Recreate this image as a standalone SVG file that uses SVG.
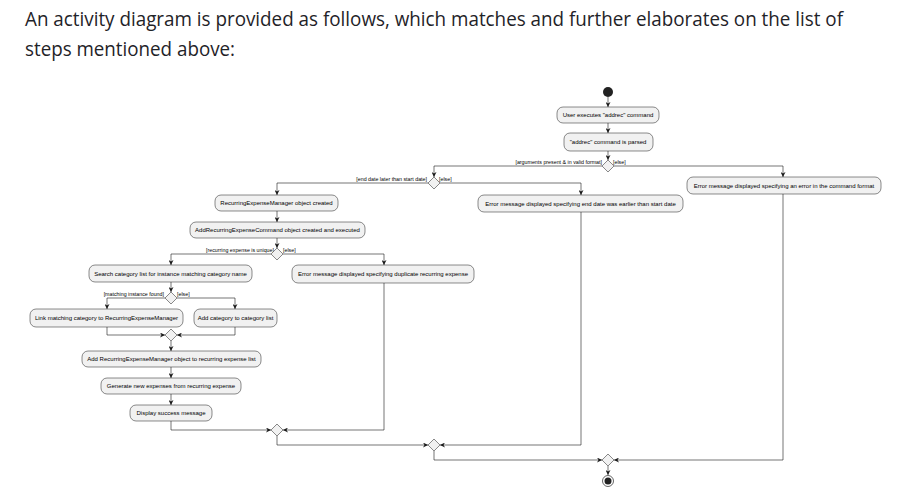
<svg xmlns="http://www.w3.org/2000/svg" width="899" height="497" viewBox="0 0 899 497">
<style>
.hdr{font-family:"Open Sans","Noto Sans","Liberation Sans",sans-serif;font-size:20px;fill:#1f2328}
.box rect{fill:#f1f1f1;stroke:#181818;stroke-width:0.5}
.box text{font-family:"Liberation Sans",Arial,sans-serif;font-size:6px;fill:#000;text-anchor:middle}
.dia{fill:#f1f1f1;stroke:#181818;stroke-width:0.5}
.lbl{font-family:"Liberation Sans",Arial,sans-serif;font-size:5.3px;fill:#000}
.edge{fill:none;stroke:#181818;stroke-width:0.6;marker-end:url(#arr)}
</style>
<defs>
<marker id="arr" viewBox="0 0 10 10" markerWidth="5" markerHeight="5" refX="10" refY="5" orient="auto" markerUnits="userSpaceOnUse">
<polygon points="0,0 10,5 0,10 3,5" fill="#181818"/>
</marker>
</defs>
<rect width="899" height="497" fill="#ffffff"/>
<text class="hdr" x="25" y="26" textLength="818" lengthAdjust="spacingAndGlyphs">An activity diagram is provided as follows, which matches and further elaborates on the list of</text>
<text class="hdr" x="25" y="56" textLength="210" lengthAdjust="spacingAndGlyphs">steps mentioned above:</text>

<g id="connectors">
<path class="edge" d="M608,97 V107"/>
<path class="edge" d="M608,123 V133"/>
<path class="edge" d="M608,151 V160"/>
<path class="edge" d="M602,166 H434 V177"/>
<path class="edge" d="M614,166 H783 V177"/>
<path class="edge" d="M428,183 H277 V195"/>
<path class="edge" d="M440,183 H581 V195"/>
<path class="edge" d="M277,211 V222"/>
<path class="edge" d="M277,238 V248"/>
<path class="edge" d="M271,254 H171 V265"/>
<path class="edge" d="M283,254 H384 V265"/>
<path class="edge" d="M171,282 V292"/>
<path class="edge" d="M165,298 H107 V309"/>
<path class="edge" d="M177,298 H235 V309"/>
<path class="edge" d="M107,327 V335 H165"/>
<path class="edge" d="M235,327 V335 H177"/>
<path class="edge" d="M171,341 V351"/>
<path class="edge" d="M171,367 V378"/>
<path class="edge" d="M171,394 V405"/>
<path class="edge" d="M171,421 V430 H271"/>
<path class="edge" d="M384,283 V430 H283"/>
<path class="edge" d="M277,436 V445 H428"/>
<path class="edge" d="M581,212 V445 H440"/>
<path class="edge" d="M434,451 V460 H602"/>
<path class="edge" d="M783,194 V460 H614"/>
<path class="edge" d="M608,466 V475"/>
<text class="lbl" x="602" y="164" text-anchor="end">[arguments present &amp; in valid format]</text>
<text class="lbl" x="613" y="164">[else]</text>
<text class="lbl" x="427" y="181" text-anchor="end">[end date later than start date]</text>
<text class="lbl" x="439" y="181">[else]</text>
<text class="lbl" x="274" y="252" text-anchor="end">[recurring expense is unique]</text>
<text class="lbl" x="283" y="252">[else]</text>
<text class="lbl" x="164" y="296" text-anchor="end">[matching instance found]</text>
<text class="lbl" x="177" y="296">[else]</text>
</g>

<g id="start"><circle cx="608" cy="92" r="5" fill="#222"/></g>
<g id="n1" class="box"><rect x="557" y="107" width="102" height="16" rx="6"/><text x="608" y="117.2">User executes "addrec" command</text></g>
<g id="n2" class="box"><rect x="564" y="133" width="89" height="18" rx="6"/><text x="608" y="144">"addrec" command is parsed</text></g>
<g id="d1"><polygon class="dia" points="608,160 614,166 608,172 602,166"/></g>
<g id="n3" class="box"><rect x="687" y="177" width="194" height="17" rx="6"/><text x="784" y="187.6">Error message displayed specifying an error in the command format</text></g>
<g id="d2"><polygon class="dia" points="434,177 440,183 434,189 428,183"/></g>
<g id="n4" class="box"><rect x="215" y="195" width="123" height="16" rx="6"/><text x="276.5" y="205.2">RecurringExpenseManager object created</text></g>
<g id="n5" class="box"><rect x="478" y="195" width="205" height="17" rx="6"/><text x="580.5" y="205.6">Error message displayed specifying end date was earlier than start date</text></g>
<g id="n6" class="box"><rect x="190" y="222" width="175" height="16" rx="6"/><text x="277.5" y="232.2">AddRecurringExpenseCommand object created and executed</text></g>
<g id="d3"><polygon class="dia" points="277,248 283,254 277,260 271,254"/></g>
<g id="n7" class="box"><rect x="89" y="265" width="163" height="17" rx="6"/><text x="170.5" y="275.6">Search category list for instance matching category name</text></g>
<g id="n8" class="box"><rect x="292" y="265" width="182" height="18" rx="6"/><text x="383" y="276">Error message displayed specifying duplicate recurring expense</text></g>
<g id="d4"><polygon class="dia" points="171,292 177,298 171,304 165,298"/></g>
<g id="n9" class="box"><rect x="30" y="309" width="153" height="18" rx="6"/><text x="106.5" y="320">Link matching category to RecurringExpenseManager</text></g>
<g id="n10" class="box"><rect x="194" y="309" width="83" height="18" rx="6"/><text x="235.5" y="320">Add category to category list</text></g>
<g id="m4"><polygon class="dia" points="171,329 177,335 171,341 165,335"/></g>
<g id="n11" class="box"><rect x="82" y="351" width="179" height="16" rx="6"/><text x="171.5" y="361.2">Add RecurringExpenseManager object to recurring expense list</text></g>
<g id="n12" class="box"><rect x="101" y="378" width="140" height="16" rx="6"/><text x="171" y="388.2">Generate new expenses from recurring expense</text></g>
<g id="n13" class="box"><rect x="130" y="405" width="82" height="16" rx="6"/><text x="171" y="415.2">Display success message</text></g>
<g id="m3"><polygon class="dia" points="277,424 283,430 277,436 271,430"/></g>
<g id="m2"><polygon class="dia" points="434,439 440,445 434,451 428,445"/></g>
<g id="m1"><polygon class="dia" points="608,454 614,460 608,466 602,460"/></g>
<g id="end"><circle cx="608" cy="481" r="5.5" fill="none" stroke="#222" stroke-width="0.7"/><circle cx="608" cy="481" r="3.5" fill="#222"/></g>
</svg>
